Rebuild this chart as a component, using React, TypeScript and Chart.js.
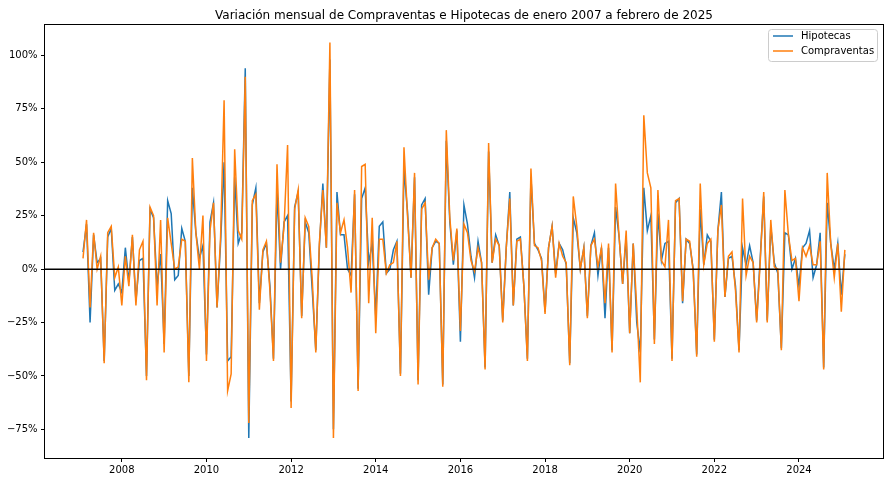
import React, { useEffect, useRef } from 'react';
import { Chart, registerables } from 'chart.js';
Chart.register(...registerables);

// Monthly series: Feb 2007 .. Feb 2025 (217 months), values in %
const START_YEAR = 2007;
const START_MONTH = 2;

const hipotecas = [
  8, 21, -25, 16, 3, 5, -43, 15, 19, -10, -7,
  -11, 10, -6, 15, -15, 4, 5, -50, 28, 24, -8, 7,
  -35, 32, 26, -5, -3, 19, 13, -50, 38, 17, 5, 11,
  -40, 22, 31, -18, 12, 50, -43, -41, 43, 12, 17, 94,
  -79, 30, 38, -16, 8, 12, -8, -42, 37, 0, 22, 25,
  -62, 29, 36, -22, 22, 17, -10, -38, 10, 40, 10, 98,
  -75, 36, 16, 16, 0, -3, 35, -56, 33, 38, 3, 12,
  -22, 20, 22, -2, 0, 9, 13, -49, 47, 27, -4, 43,
  -52, 30, 33, -12, 10, 13, 12, -54, 60, 22, 2, 18,
  -34, 30, 21, 6, -4, 13, 3, -46, 55, 3, 16, 11,
  -24, 10, 36, -17, 14, 15, -8, -42, 43, 12, 9, 5,
  -20, 10, 20, -2, 12, 9, 2, -44, 24, 17, 0, 10,
  -22, 11, 17, -3, 10, -23, 10, -38, 29, 15, -7, 15,
  -30, 12, -25, -39, 38, 18, 25, -33, 26, 4, 12, 13,
  -42, 31, 33, -16, 14, 12, 0, -40, 28, 2, 16, 13,
  -33, 18, 36, -13, 5, 6, -8, -38, 10, 2, 11, 3,
  -24, 5, 34, -24, 20, 3, -2, -37, 17, 16, 0, 5,
  -8, 10, 12, 18, -4, 2, 17, -46, 31, 12, 0, 12,
  -12, 7,
];

const compraventas = [
  5, 23, -18, 17, 0, 6, -44, 17, 20, -4, 1,
  -17, 6, -8, 16, -17, 9, 13, -52, 29, 25, -17, 23,
  -39, 24, 12, 0, 1, 14, 13, -53, 52, 17, 0, 25,
  -43, 18, 31, -18, 15, 79, -57, -49, 56, 18, 14, 90,
  -72, 32, 35, -19, 9, 13, -10, -43, 49, 3, 20, 58,
  -65, 28, 37, -23, 24, 20, -5, -39, 12, 37, 10, 106,
  -79, 31, 17, 23, 10, -11, 37, -57, 48, 49, -16, 24,
  -30, 14, 14, -2, 2, 3, 13, -50, 57, 25, -4, 45,
  -54, 28, 31, -5, 10, 14, 12, -55, 65, 24, 4, 19,
  -29, 21, 17, 4, -1, 10, 3, -47, 59, 3, 14, 11,
  -25, 10, 33, -17, 13, 14, -8, -43, 47, 11, 10, 4,
  -21, 10, 20, -4, 12, 6, 3, -45, 34, 20, 0, 10,
  -23, 11, 14, 1, 10, -16, 12, -39, 40, 15, -7, 18,
  -30, 12, -18, -53, 72, 45, 38, -35, 37, 4, 1, 23,
  -43, 32, 33, -15, 14, 13, -1, -41, 40, 2, 12, 14,
  -34, 18, 30, -13, 6, 8, -10, -39, 33, -3, 6, 3,
  -25, 3, 36, -25, 23, 1, 0, -38, 37, 16, 4, 5,
  -15, 10, 6, 11, 2, 2, 13, -47, 45, 12, -4, 12,
  -20, 9,
];

const seriesLabels = ['Hipotecas', 'Compraventas'];
const seriesColors = ['#1f77b4', '#ff7f0e'];
const xTickYears = [2008, 2010, 2012, 2014, 2016, 2018, 2020, 2022, 2024];
const yTickValues = [-75, -50, -25, 0, 25, 50, 75, 100];
const TITLE = 'Variación mensual de Compraventas e Hipotecas de enero 2007 a febrero de 2025';

const monthX = (i: number) => START_YEAR + (START_MONTH - 1 + i) / 12;
const toPoints = (arr: number[]) => arr.map((v, i) => ({ x: monthX(i), y: v }));

const FONT = '"DejaVu Sans", Verdana, sans-serif';

const decorPlugin = {
  id: 'decor',
  afterDatasetsDraw(chart: any) {
    const { ctx, chartArea, scales } = chart;
    const y0 = Math.round(scales.y.getPixelForValue(0)) + 0.25;
    ctx.save();
    ctx.strokeStyle = '#000';
    ctx.lineWidth = 1.6;
    ctx.beginPath();
    ctx.moveTo(chartArea.left, y0);
    ctx.lineTo(chartArea.right, y0);
    ctx.stroke();
    ctx.restore();
  },
  afterDraw(chart: any) {
    const { ctx, chartArea } = chart;
    const { left, right, top, bottom } = chartArea;
    ctx.save();
    // spines
    ctx.strokeStyle = '#000';
    ctx.lineWidth = 1;
    ctx.strokeRect(left - 0.5, top - 0.5, right - left + 1, bottom - top + 1);
    // title
    ctx.fillStyle = '#000';
    ctx.font = `12px ${FONT}`;
    ctx.textAlign = 'center';
    ctx.textBaseline = 'alphabetic';
    ctx.fillText(TITLE, (left + right) / 2, top - 6.5);
    // legend
    const bx = right - 114.5, by = top + 4.5, bw = 109, bh = 32;
    ctx.beginPath();
    ctx.roundRect(bx, by, bw, bh, 3);
    ctx.fillStyle = 'rgba(255,255,255,0.8)';
    ctx.fill();
    ctx.strokeStyle = '#cccccc';
    ctx.lineWidth = 1;
    ctx.stroke();
    ctx.font = `10px ${FONT}`;
    ctx.textAlign = 'left';
    ctx.textBaseline = 'middle';
    seriesLabels.forEach((lab, k) => {
      const yy = top + 11 + k * 15;
      ctx.strokeStyle = seriesColors[k];
      ctx.lineWidth = 1.5;
      ctx.beginPath();
      ctx.moveTo(bx + 4.5, yy);
      ctx.lineTo(bx + 24.5, yy);
      ctx.stroke();
      ctx.fillStyle = '#000';
      ctx.fillText(lab, bx + 32.5, yy + 0.5);
    });
    ctx.restore();
  },
};

export default function App() {
  const ref = useRef<HTMLCanvasElement | null>(null);
  useEffect(() => {
    if (!ref.current) return;
    const chart = new Chart(ref.current, {
      type: 'line',
      data: {
        datasets: [
          {
            label: seriesLabels[0],
            data: toPoints(hipotecas),
            borderColor: seriesColors[0],
            backgroundColor: seriesColors[0],
            borderWidth: 1.5,
            pointRadius: 0,
            tension: 0,
            order: 2,
          },
          {
            label: seriesLabels[1],
            data: toPoints(compraventas),
            borderColor: seriesColors[1],
            backgroundColor: seriesColors[1],
            borderWidth: 1.5,
            pointRadius: 0,
            tension: 0,
            order: 1,
          },
        ],
      },
      options: {
        responsive: false,
        devicePixelRatio: 1,
        animation: false,
        events: [],
        layout: { padding: { left: 0, top: 25, right: 5, bottom: 0 } },
        plugins: {
          legend: { display: false },
          title: { display: false },
          tooltip: { enabled: false },
        },
        scales: {
          x: {
            type: 'linear',
            min: 2006.185,
            max: 2025.985,
            border: { display: false },
            grid: { display: true, drawOnChartArea: false, drawTicks: true, tickLength: 4, color: '#000' },
            ticks: {
              font: { family: FONT, size: 10 },
              color: '#000',
              padding: 2,
              maxRotation: 0,
              autoSkip: false,
              callback: (v: any) => String(v),
            },
            afterBuildTicks: (scale: any) => {
              scale.ticks = xTickYears.map((v) => ({ value: v }));
            },
            afterFit: (scale: any) => {
              scale.height = 24;
            },
          },
          y: {
            type: 'linear',
            min: -88.4,
            max: 114.2,
            border: { display: false },
            grid: { display: true, drawOnChartArea: false, drawTicks: true, tickLength: 4, color: '#000' },
            ticks: {
              font: { family: FONT, size: 10 },
              color: '#000',
              padding: 3.5,
              autoSkip: false,
              callback: (v: any) => (v < 0 ? '\u2212' + Math.abs(v) : String(v)) + '%',
            },
            afterBuildTicks: (scale: any) => {
              scale.ticks = yTickValues.map((v) => ({ value: v }));
            },
            afterFit: (scale: any) => {
              scale.width = 45;
            },
          },
        },
      },
      plugins: [decorPlugin],
    });
    return () => chart.destroy();
  }, []);
  return (
    <div style={{ position: 'absolute', left: 0, top: 0, width: 888, height: 482, background: '#fff' }}>
      <canvas ref={ref} width={888} height={482} style={{ display: 'block' }} />
    </div>
  );
}
